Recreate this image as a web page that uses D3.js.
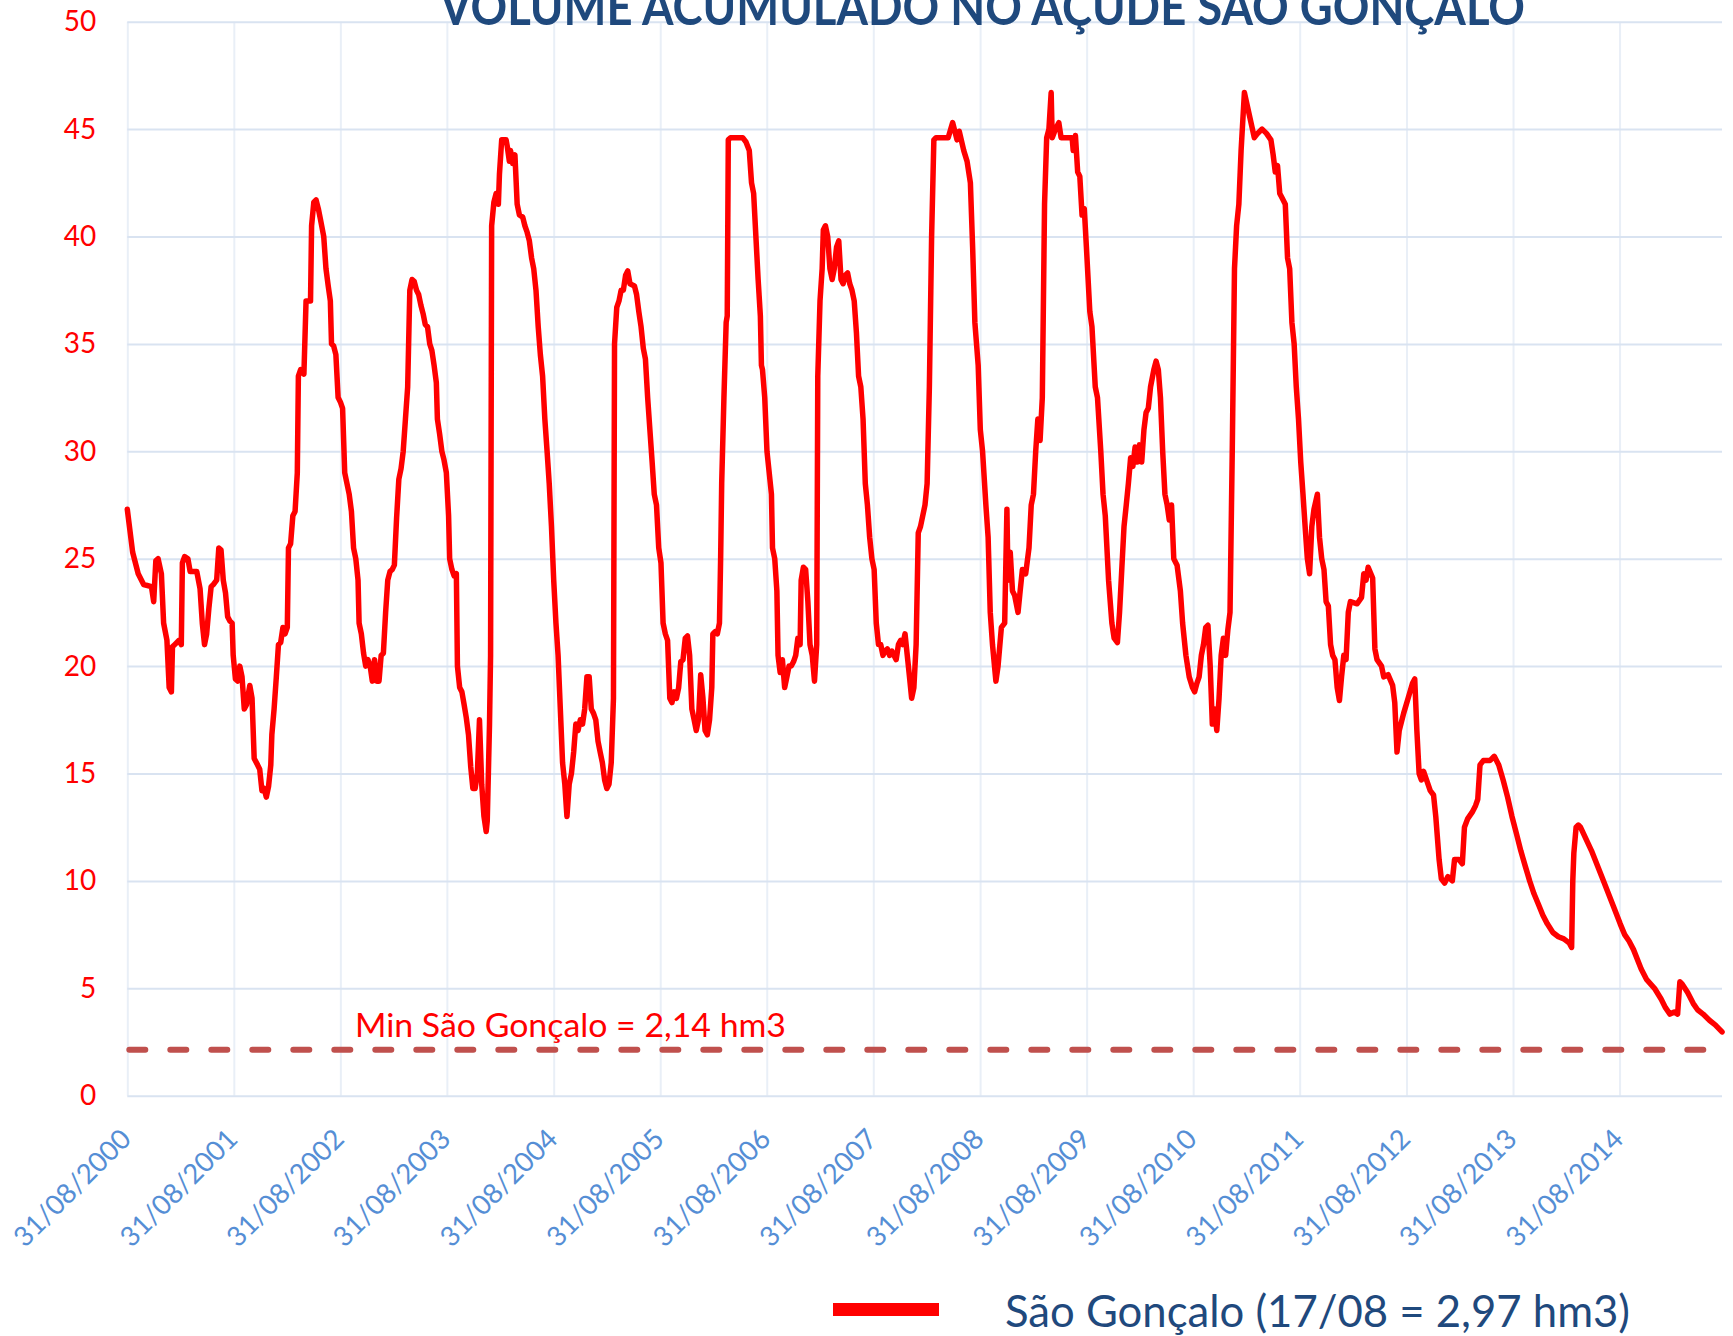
<!DOCTYPE html>
<html><head><meta charset="utf-8">
<script src="https://cdn.jsdelivr.net/npm/d3@7"></script>
<style>body{margin:0;background:#fff;} svg{display:block;}</style>
</head><body>
<svg id="chart" width="1733" height="1336"></svg>
<script>
const chartTitle = "VOLUME ACUMULADO NO AÇUDE SÃO GONÇALO";
const yTicks = [0, 5, 10, 15, 20, 25, 30, 35, 40, 45, 50];
const tickYears = [2000, 2001, 2002, 2003, 2004, 2005, 2006, 2007, 2008, 2009, 2010, 2011, 2012, 2013, 2014];
const tickLabels = ["31/08/2000","31/08/2001","31/08/2002","31/08/2003","31/08/2004","31/08/2005","31/08/2006","31/08/2007","31/08/2008","31/08/2009","31/08/2010","31/08/2011","31/08/2012","31/08/2013","31/08/2014"];
const axisStart = "2000-08-31";
const axisEnd = "2015-08-17";
const minVolume = 2.14;
const minLabel = "Min São Gonçalo = 2,14 hm3";
const legendLabel = "São Gonçalo (17/08 = 2,97 hm3)";
// [decimal year, volume hm3]
const volumeSeries = [
[2000.664,27.3],[2000.714,25.3],[2000.766,24.3],[2000.817,23.8],[2000.890,23.7],[2000.911,23.0],[2000.931,24.9],[2000.952,25.0],[2000.983,24.3],[2001.004,22.0],[2001.035,21.2],[2001.056,19.0],[2001.077,18.8],[2001.087,20.9],[2001.108,21.0],[2001.149,21.2],[2001.170,21.0],[2001.180,24.8],[2001.201,25.1],[2001.232,25.0],[2001.253,24.4],[2001.315,24.4],[2001.346,23.6],[2001.367,22.0],[2001.388,21.0],[2001.408,21.5],[2001.429,22.7],[2001.450,23.7],[2001.471,23.8],[2001.502,24.0],[2001.522,25.5],[2001.543,25.4],[2001.564,24.0],[2001.585,23.4],[2001.605,22.3],[2001.626,22.1],[2001.647,22.0],[2001.657,20.5],[2001.678,19.4],[2001.699,19.3],[2001.719,20.0],[2001.740,19.5],[2001.761,18.0],[2001.782,18.2],[2001.813,19.1],[2001.834,18.5],[2001.854,15.7],[2001.886,15.4],[2001.906,15.2],[2001.927,14.2],[2001.948,14.3],[2001.968,13.9],[2001.989,14.4],
[2002.010,15.4],[2002.020,16.8],[2002.041,18.0],[2002.062,19.5],[2002.082,21.0],[2002.103,21.1],[2002.124,21.8],[2002.144,21.5],[2002.165,21.8],[2002.176,25.5],[2002.196,25.7],[2002.217,27.0],[2002.238,27.2],[2002.259,29.0],[2002.269,33.5],[2002.290,33.8],[2002.321,33.6],[2002.341,37.0],[2002.383,37.0],[2002.393,40.5],[2002.414,41.6],[2002.435,41.7],[2002.456,41.3],[2002.476,40.8],[2002.507,40.0],[2002.528,38.5],[2002.549,37.7],[2002.569,37.0],[2002.580,35.0],[2002.600,34.9],[2002.621,34.5],[2002.642,32.5],[2002.663,32.3],[2002.684,32.0],[2002.704,29.0],[2002.725,28.5],[2002.746,28.0],[2002.767,27.2],[2002.787,25.5],[2002.808,25.0],[2002.829,24.0],[2002.839,22.0],[2002.860,21.5],[2002.881,20.6],[2002.901,20.0],[2002.922,20.3],[2002.943,20.0],[2002.963,19.3],[2002.984,20.3],
[2003.005,19.3],[2003.026,19.3],[2003.046,20.5],[2003.067,20.6],[2003.088,22.5],[2003.108,24.0],[2003.129,24.4],[2003.150,24.5],[2003.170,24.7],[2003.191,26.9],[2003.212,28.7],[2003.233,29.2],[2003.253,30.0],[2003.274,31.5],[2003.295,33.0],[2003.315,37.5],[2003.336,38.0],[2003.357,37.9],[2003.378,37.5],[2003.398,37.3],[2003.419,36.8],[2003.440,36.4],[2003.460,35.9],[2003.481,35.8],[2003.502,35.0],[2003.522,34.7],[2003.543,34.0],[2003.564,33.2],[2003.574,31.5],[2003.595,30.8],[2003.616,30.0],[2003.636,29.6],[2003.658,29.0],[2003.679,27.0],[2003.689,25.0],[2003.710,24.5],[2003.731,24.2],[2003.752,24.3],[2003.762,20.0],[2003.783,19.0],[2003.804,18.8],[2003.825,18.2],[2003.845,17.6],[2003.866,16.8],[2003.887,15.3],[2003.907,14.3],[2003.928,14.3],[2003.949,15.0],[2003.969,17.5],[2003.990,14.5],
[2004.011,13.0],[2004.032,12.3],[2004.042,12.8],[2004.063,17.3],[2004.073,20.5],[2004.083,40.5],[2004.104,41.6],[2004.125,42.0],[2004.146,41.5],[2004.156,42.9],[2004.177,44.5],[2004.218,44.5],[2004.229,44.2],[2004.249,43.5],[2004.260,44.0],[2004.280,43.4],[2004.301,43.8],[2004.322,41.5],[2004.343,41.0],[2004.374,40.9],[2004.394,40.5],[2004.415,40.2],[2004.436,39.8],[2004.457,39.0],[2004.477,38.5],[2004.498,37.5],[2004.519,35.8],[2004.539,34.5],[2004.560,33.5],[2004.581,31.5],[2004.602,30.0],[2004.622,28.5],[2004.643,26.5],[2004.664,24.0],[2004.685,22.0],[2004.705,20.5],[2004.726,18.0],[2004.747,15.5],[2004.768,14.5],[2004.788,13.0],[2004.809,14.5],[2004.830,15.0],[2004.851,16.0],[2004.871,17.3],[2004.892,17.0],[2004.913,17.5],[2004.934,17.3],[2004.954,18.0],[2004.975,19.5],[2004.996,19.5],
[2005.016,18.0],[2005.037,17.8],[2005.058,17.5],[2005.079,16.5],[2005.099,16.0],[2005.120,15.5],[2005.141,14.7],[2005.162,14.3],[2005.182,14.5],[2005.203,15.5],[2005.224,18.5],[2005.234,35.0],[2005.255,36.7],[2005.276,37.0],[2005.296,37.5],[2005.317,37.5],[2005.338,38.2],[2005.358,38.4],[2005.379,37.8],[2005.421,37.7],[2005.441,37.3],[2005.462,36.5],[2005.483,35.8],[2005.504,34.8],[2005.524,34.3],[2005.545,32.5],[2005.566,31.0],[2005.587,29.5],[2005.607,28.0],[2005.628,27.5],[2005.649,25.5],[2005.670,24.8],[2005.690,22.0],[2005.711,21.5],[2005.732,21.2],[2005.753,18.5],[2005.773,18.3],[2005.794,18.8],[2005.815,18.5],[2005.836,19.0],[2005.856,20.2],[2005.877,20.3],[2005.898,21.3],[2005.919,21.4],[2005.939,20.5],[2005.960,18.0],[2005.981,17.5],
[2006.001,17.0],[2006.022,17.5],[2006.043,19.6],[2006.064,18.5],[2006.084,17.0],[2006.105,16.8],[2006.126,17.5],[2006.147,19.0],[2006.157,21.5],[2006.178,21.6],[2006.199,21.5],[2006.219,22.0],[2006.230,25.0],[2006.240,28.5],[2006.261,32.5],[2006.282,36.0],[2006.292,36.3],[2006.302,44.5],[2006.323,44.6],[2006.437,44.6],[2006.468,44.4],[2006.499,44.0],[2006.520,42.5],[2006.540,42.0],[2006.561,40.0],[2006.582,38.0],[2006.603,36.3],[2006.613,34.0],[2006.623,33.8],[2006.644,32.5],[2006.665,30.0],[2006.686,29.0],[2006.707,28.0],[2006.717,25.5],[2006.738,25.0],[2006.758,23.5],[2006.769,20.5],[2006.789,19.7],[2006.810,20.3],[2006.831,19.0],[2006.852,19.5],[2006.872,20.0],[2006.893,20.0],[2006.914,20.2],[2006.935,20.5],[2006.955,21.3],[2006.976,21.0],[2006.986,24.0],
[2007.007,24.6],[2007.028,24.5],[2007.049,23.0],[2007.069,21.0],[2007.090,20.5],[2007.111,19.3],[2007.132,21.0],[2007.142,33.5],[2007.163,37.0],[2007.183,38.5],[2007.194,40.3],[2007.214,40.5],[2007.235,40.0],[2007.256,38.5],[2007.277,38.0],[2007.297,38.5],[2007.318,39.5],[2007.339,39.8],[2007.360,38.0],[2007.380,37.8],[2007.401,38.2],[2007.422,38.3],[2007.442,37.8],[2007.463,37.5],[2007.484,37.0],[2007.505,35.5],[2007.525,33.5],[2007.546,33.0],[2007.567,31.5],[2007.588,28.5],[2007.608,27.5],[2007.629,26.0],[2007.650,25.0],[2007.671,24.5],[2007.691,22.0],[2007.712,21.0],[2007.733,21.0],[2007.754,20.5],[2007.774,20.7],[2007.795,20.8],[2007.816,20.5],[2007.837,20.7],[2007.857,20.5],[2007.878,20.3],[2007.899,21.0],[2007.920,21.2],[2007.940,21.0],[2007.961,21.5],[2007.982,20.5],
[2008.003,19.5],[2008.023,18.5],[2008.044,19.0],[2008.065,21.0],[2008.085,26.2],[2008.106,26.5],[2008.127,27.0],[2008.148,27.5],[2008.168,28.5],[2008.189,33.0],[2008.210,40.0],[2008.231,44.5],[2008.251,44.6],[2008.365,44.6],[2008.407,45.3],[2008.448,44.5],[2008.469,44.9],[2008.511,44.0],[2008.542,43.5],[2008.573,42.5],[2008.594,39.5],[2008.615,36.0],[2008.646,34.0],[2008.666,31.0],[2008.687,30.0],[2008.718,27.5],[2008.739,26.0],[2008.759,22.5],[2008.780,21.0],[2008.812,19.3],[2008.832,20.0],[2008.863,21.8],[2008.894,22.0],[2008.915,27.3],[2008.925,24.0],[2008.946,25.3],[2008.967,23.5],[2008.987,23.3],
[2009.019,22.5],[2009.039,23.5],[2009.060,24.5],[2009.091,24.3],[2009.122,25.5],[2009.143,27.5],[2009.164,28.0],[2009.185,30.0],[2009.205,31.5],[2009.226,30.5],[2009.247,32.5],[2009.268,41.5],[2009.288,44.6],[2009.309,45.0],[2009.330,46.7],[2009.340,44.6],[2009.371,45.0],[2009.402,45.3],[2009.423,44.6],[2009.527,44.6],[2009.537,44.0],[2009.558,44.7],[2009.579,43.0],[2009.599,42.8],[2009.620,41.0],[2009.641,41.3],[2009.661,39.5],[2009.693,36.5],[2009.713,35.8],[2009.744,33.0],[2009.765,32.5],[2009.796,30.0],[2009.817,28.0],[2009.838,27.0],[2009.869,24.0],[2009.900,22.0],[2009.921,21.3],[2009.952,21.1],[2009.972,22.5],[2009.993,24.5],
[2010.014,26.5],[2010.035,27.5],[2010.055,28.5],[2010.076,29.7],[2010.097,29.3],[2010.118,30.2],[2010.138,29.5],[2010.159,30.3],[2010.180,29.5],[2010.201,31.0],[2010.221,31.8],[2010.242,32.0],[2010.263,33.0],[2010.294,33.8],[2010.315,34.2],[2010.336,33.8],[2010.356,32.5],[2010.377,30.0],[2010.398,28.0],[2010.419,27.5],[2010.439,26.8],[2010.460,27.5],[2010.481,25.0],[2010.512,24.7],[2010.543,23.5],[2010.564,22.0],[2010.595,20.5],[2010.626,19.5],[2010.657,19.0],[2010.677,18.8],[2010.698,19.2],[2010.719,19.5],[2010.740,20.5],[2010.760,21.0],[2010.781,21.8],[2010.802,21.9],[2010.823,20.0],[2010.843,17.3],[2010.864,18.0],[2010.885,17.0],[2010.906,18.5],[2010.926,20.5],[2010.947,21.3],[2010.968,20.5],[2010.989,21.7],
[2011.009,22.5],[2011.030,30.0],[2011.051,38.5],[2011.071,40.5],[2011.092,41.5],[2011.113,44.0],[2011.144,46.7],[2011.175,46.0],[2011.206,45.3],[2011.237,44.6],[2011.268,44.8],[2011.310,45.0],[2011.351,44.8],[2011.393,44.5],[2011.414,43.8],[2011.434,43.0],[2011.455,43.3],[2011.476,42.0],[2011.497,41.8],[2011.528,41.5],[2011.549,39.0],[2011.569,38.5],[2011.590,36.0],[2011.611,35.0],[2011.631,33.0],[2011.652,31.5],[2011.673,29.5],[2011.694,28.0],[2011.714,26.5],[2011.735,25.0],[2011.756,24.3],[2011.777,26.5],[2011.797,27.3],[2011.829,28.0],[2011.849,26.0],[2011.870,25.0],[2011.891,24.5],[2011.911,23.0],[2011.932,22.8],[2011.953,21.0],[2011.973,20.5],[2011.994,20.3],
[2012.015,19.0],[2012.036,18.4],[2012.056,19.5],[2012.077,20.5],[2012.098,20.3],[2012.119,22.5],[2012.139,23.0],[2012.202,22.9],[2012.243,23.2],[2012.264,24.3],[2012.285,24.0],[2012.305,24.6],[2012.347,24.1],[2012.368,20.8],[2012.388,20.3],[2012.430,20.0],[2012.451,19.5],[2012.492,19.6],[2012.534,19.1],[2012.554,18.3],[2012.575,16.0],[2012.596,17.0],[2012.637,17.8],[2012.679,18.5],[2012.720,19.2],[2012.741,19.4],[2012.761,17.0],[2012.782,15.0],[2012.803,14.7],[2012.824,15.1],[2012.865,14.5],[2012.886,14.2],[2012.917,14.0],[2012.938,13.0],[2012.969,11.0],[2012.990,10.1],
[2013.021,9.9],[2013.052,10.2],[2013.093,10.0],[2013.114,11.0],[2013.155,11.0],[2013.187,10.8],[2013.207,12.5],[2013.238,12.9],[2013.280,13.2],[2013.311,13.5],[2013.332,13.8],[2013.353,15.4],[2013.384,15.6],[2013.446,15.6],[2013.487,15.8],[2013.529,15.4],[2013.570,14.7],[2013.612,13.9],[2013.653,13.0],[2013.695,12.2],[2013.736,11.4],[2013.777,10.7],[2013.819,10.0],[2013.860,9.4],[2013.902,8.9],[2013.943,8.4],[2013.985,8.0],
[2014.037,7.6],[2014.089,7.4],[2014.140,7.3],[2014.192,7.1],[2014.213,6.9],[2014.224,10.0],[2014.234,11.3],[2014.255,12.5],[2014.276,12.6],[2014.296,12.5],[2014.400,11.4],[2014.504,10.1],[2014.607,8.8],[2014.669,8.0],[2014.711,7.5],[2014.752,7.2],[2014.794,6.8],[2014.866,5.9],[2014.918,5.4],[2014.991,5.0],
[2015.053,4.5],[2015.094,4.1],[2015.136,3.8],[2015.177,3.9],[2015.208,3.8],[2015.229,5.3],[2015.250,5.2],[2015.302,4.8],[2015.354,4.3],[2015.395,4.0],[2015.447,3.8],[2015.509,3.5],[2015.561,3.3],[2015.625,2.97]
];

function decToDate(v) {
  const yr = Math.floor(v);
  const a = new Date(yr, 0, 1).getTime(), b = new Date(yr + 1, 0, 1).getTime();
  return new Date(a + (v - yr) * (b - a));
}
const parse = d3.timeParse("%Y-%m-%d");

const svg = d3.select("#chart");
const plotL = 127.3, plotR = 1722, plotT = 21.7, plotB = 1095.7;
const x = d3.scaleTime().domain([parse(axisStart), parse(axisEnd)]).range([plotL, plotR]);
const y = d3.scaleLinear().domain([0, 50]).range([plotB, plotT]);
const FONT = "Lato, 'Open Sans', 'DejaVu Sans', sans-serif";

svg.append("rect").attr("width", 1733).attr("height", 1336).attr("fill", "#fff");

// vertical gridlines + x labels
const tickDates = tickYears.map(yr => new Date(yr, 7, 31));
const xAxis = svg.append("g").attr("transform", `translate(0,${plotB})`)
  .call(d3.axisBottom(x).tickValues(tickDates).tickSize(-(plotB - plotT)).tickFormat((d, i) => tickLabels[i]));
xAxis.select(".domain").remove();
xAxis.selectAll(".tick line").attr("stroke", "#E9EFF7").attr("stroke-width", 2);
xAxis.selectAll(".tick text")
  .attr("x", 0).attr("y", 0).attr("dy", null)
  .attr("transform", "translate(5,45) rotate(-45)")
  .attr("text-anchor", "end")
  .attr("fill", "#558ED5")
  .style("font-family", FONT).style("font-size", "27.5px");

// horizontal gridlines + y labels
const yAxis = svg.append("g").attr("transform", `translate(${plotL},0)`)
  .call(d3.axisLeft(y).tickValues(yTicks).tickSize(-(plotR - plotL)).tickPadding(31));
yAxis.select(".domain").remove();
yAxis.selectAll(".tick line").attr("stroke", "#D9E3F1").attr("stroke-width", 2);
yAxis.selectAll(".tick text").attr("fill", "#FF0000")
  .style("font-family", FONT).style("font-size", "28px");

// minimum line
svg.append("line")
  .attr("x1", x(parse(axisStart)) + 2).attr("x2", x(parse(axisEnd)))
  .attr("y1", y(minVolume)).attr("y2", y(minVolume))
  .attr("stroke", "#C0504D").attr("stroke-width", 6)
  .attr("stroke-linecap", "round").attr("stroke-dasharray", "16 25");

svg.append("text").attr("x", 355).attr("y", 1036.7)
  .attr("fill", "#FF0000").style("font-family", FONT).style("font-size", "32px")
  .attr("textLength", 431).attr("lengthAdjust", "spacingAndGlyphs")
  .text(minLabel);

// series
const line = d3.line().x(d => x(decToDate(d[0]))).y(d => y(d[1]));
svg.append("path").datum(volumeSeries)
  .attr("d", line).attr("fill", "none").attr("stroke", "#FF0000")
  .attr("stroke-width", 5.5).attr("stroke-linejoin", "round").attr("stroke-linecap", "round");

// title
svg.append("text").attr("x", 440).attr("y", 25)
  .attr("fill", "#1F497D").style("font-family", FONT).style("font-weight", "700").style("font-size", "52px")
  .attr("textLength", 1085).attr("lengthAdjust", "spacingAndGlyphs")
  .text(chartTitle);

// legend
svg.append("line").attr("x1", 833).attr("x2", 939).attr("y1", 1309.5).attr("y2", 1309.5)
  .attr("stroke", "#FF0000").attr("stroke-width", 13);
svg.append("text").attr("x", 1005).attr("y", 1327)
  .attr("fill", "#1F497D").style("font-family", FONT).style("font-size", "44px")
  .attr("textLength", 625).attr("lengthAdjust", "spacingAndGlyphs")
  .text(legendLabel);
</script>
</body></html>
